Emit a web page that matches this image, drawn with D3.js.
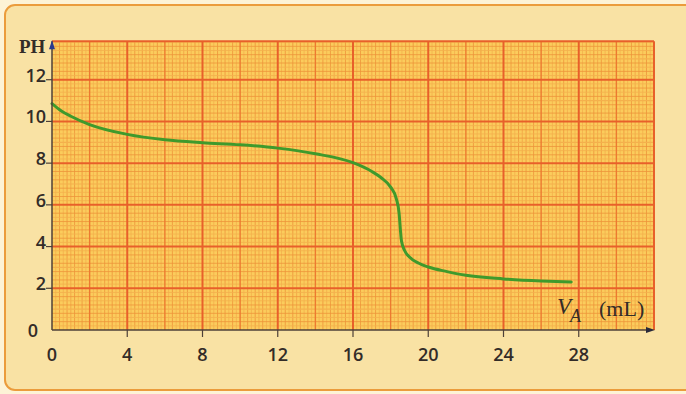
<!DOCTYPE html>
<html>
<head>
<meta charset="utf-8">
<script src="https://cdn.jsdelivr.net/npm/d3@7"></script>
<style>
  body { margin: 0; background: #fdf3d6; }
  svg { display: block; }
</style>
</head>
<body>
<svg id="chart" width="686" height="394"></svg>
<script>
// titration curve
const volume = [0, 0.5, 1, 2, 4, 6, 8, 10, 12, 14, 16, 17, 17.5, 18, 18.3, 18.45, 18.52, 18.58, 18.75, 19, 19.5, 20, 21, 22, 24, 26, 27.6];
const ph = [10.85, 10.5, 10.25, 9.85, 9.38, 9.12, 8.98, 8.88, 8.72, 8.45, 8.02, 7.6, 7.3, 6.85, 6.3, 5.6, 4.8, 4.25, 3.8, 3.5, 3.2, 3.02, 2.8, 2.62, 2.45, 2.35, 2.3];
const xTicks = [4, 8, 12, 16, 20, 24, 28];
const yTicks = [2, 4, 6, 8, 10, 12];

const svg = d3.select("#chart");
const x = d3.scaleLinear().domain([0, 32]).range([52, 654]);
const y = d3.scaleLinear().domain([0, 14]).range([330, 38]);
const xMax = 32, yMax = 13.85;

// paper background
svg.append("rect")
  .attr("x", 5).attr("y", 5)
  .attr("width", 700).attr("height", 385)
  .attr("rx", 10)
  .attr("fill", "#f9e2a4")
  .attr("stroke", "#eb9c3c")
  .attr("stroke-width", 2);

// graph paper
const grid = svg.append("g");
grid.append("rect")
  .attr("x", x(0)).attr("y", y(yMax))
  .attr("width", x(xMax) - x(0))
  .attr("height", y(0) - y(yMax))
  .attr("fill", "#fbcc5c");

const vLine = (v, color, w) => grid.append("line")
  .attr("x1", x(v)).attr("x2", x(v))
  .attr("y1", y(0)).attr("y2", y(yMax))
  .attr("stroke", color).attr("stroke-width", w);
const hLine = (v, color, w) => grid.append("line")
  .attr("x1", x(0)).attr("x2", x(xMax))
  .attr("y1", y(v)).attr("y2", y(v))
  .attr("stroke", color).attr("stroke-width", w);

d3.range(0, 160).forEach(i => {
  const v = i * 0.2;
  if (i % 10 === 0) return;
  vLine(v, i % 2 === 0 ? "#ee943a" : "#f4b04c", i % 5 === 0 ? 1.2 : 0.8);
});
d3.range(0, 70).forEach(i => {
  const v = i * 0.2;
  if (i % 10 === 0 || v > yMax) return;
  hLine(v, i % 2 === 0 ? "#ee943a" : "#f4b04c", i % 5 === 0 ? 1.2 : 0.8);
});
d3.range(2, 32, 4).forEach(v => vLine(v, "#ec7a30", 1.4));
d3.range(4, 33, 4).forEach(v => vLine(v, "#e8602a", 2));
d3.range(2, 14, 2).forEach(v => hLine(v, "#e8602a", 2));
hLine(yMax, "#e8602a", 2);

// curve
const line = d3.line()
  .x((d, i) => x(volume[i]))
  .y(d => y(d))
  .curve(d3.curveMonotoneX);

svg.append("path")
  .datum(ph)
  .attr("d", line)
  .attr("fill", "none")
  .attr("stroke", "#3f9a2c")
  .attr("stroke-width", 3)
  .attr("stroke-linecap", "round");

// axes
const axisColor = "#4e4038";
svg.append("line")
  .attr("x1", x(0)).attr("x2", x(0))
  .attr("y1", y(0)).attr("y2", y(yMax))
  .attr("stroke", axisColor).attr("stroke-width", 1.5);
svg.append("line")
  .attr("x1", x(0)).attr("x2", x(xMax) - 2)
  .attr("y1", y(0)).attr("y2", y(0))
  .attr("stroke", axisColor).attr("stroke-width", 1.5);
svg.append("path")
  .attr("d", `M${x(0) - 3},${y(yMax) + 8} L${x(0)},${y(yMax) - 1} L${x(0) + 3},${y(yMax) + 8} Z`)
  .attr("fill", "#2c3a8c");
svg.append("path")
  .attr("d", `M${x(xMax) - 8},${y(0) - 3} L${x(xMax) + 1},${y(0)} L${x(xMax) - 8},${y(0) + 3} Z`)
  .attr("fill", "#2a2a3a");

const labelFont = "'Open Sans', 'DejaVu Sans', sans-serif";
const textColor = "#332c28";

svg.selectAll(".xtick").data(xTicks).enter().append("line")
  .attr("x1", d => x(d)).attr("x2", d => x(d))
  .attr("y1", y(0)).attr("y2", y(0) + 7)
  .attr("stroke", axisColor).attr("stroke-width", 1.2);
svg.selectAll(".xlab").data([0].concat(xTicks)).enter().append("text")
  .attr("x", d => x(d)).attr("y", 361)
  .attr("text-anchor", "middle")
  .attr("font-family", labelFont).attr("font-size", 18).attr("font-weight", 600)
  .attr("fill", textColor)
  .text(d => d);

svg.selectAll(".ytick").data(yTicks).enter().append("line")
  .attr("x1", x(0) - 6).attr("x2", x(0))
  .attr("y1", d => y(d)).attr("y2", d => y(d))
  .attr("stroke", axisColor).attr("stroke-width", 1.2);
svg.selectAll(".ylab").data(yTicks).enter().append("text")
  .attr("x", 46).attr("y", d => y(d) + 2)
  .attr("text-anchor", "end")
  .attr("font-family", labelFont).attr("font-size", 18).attr("font-weight", 600)
  .attr("fill", textColor)
  .text(d => d);
svg.append("text")
  .attr("x", 33).attr("y", y(0) + 7)
  .attr("text-anchor", "middle")
  .attr("font-family", labelFont).attr("font-size", 18).attr("font-weight", 600)
  .attr("fill", textColor)
  .text("0");

// axis titles
svg.append("text")
  .attr("x", 19).attr("y", 53)
  .attr("font-family", "'Liberation Serif', serif")
  .attr("font-weight", "bold").attr("font-size", 19)
  .attr("fill", textColor)
  .text("PH");

const serif = "'Liberation Serif', serif";
svg.append("text")
  .attr("x", 557).attr("y", 314)
  .attr("font-family", serif).attr("font-style", "italic").attr("font-size", 23)
  .attr("fill", textColor)
  .text("V");
svg.append("text")
  .attr("x", 570).attr("y", 322)
  .attr("font-family", serif).attr("font-style", "italic").attr("font-size", 18)
  .attr("fill", textColor)
  .text("A");
svg.append("text")
  .attr("x", 599).attr("y", 316)
  .attr("font-family", serif).attr("font-size", 22)
  .attr("fill", textColor)
  .text("(mL)");
</script>
</body>
</html>
